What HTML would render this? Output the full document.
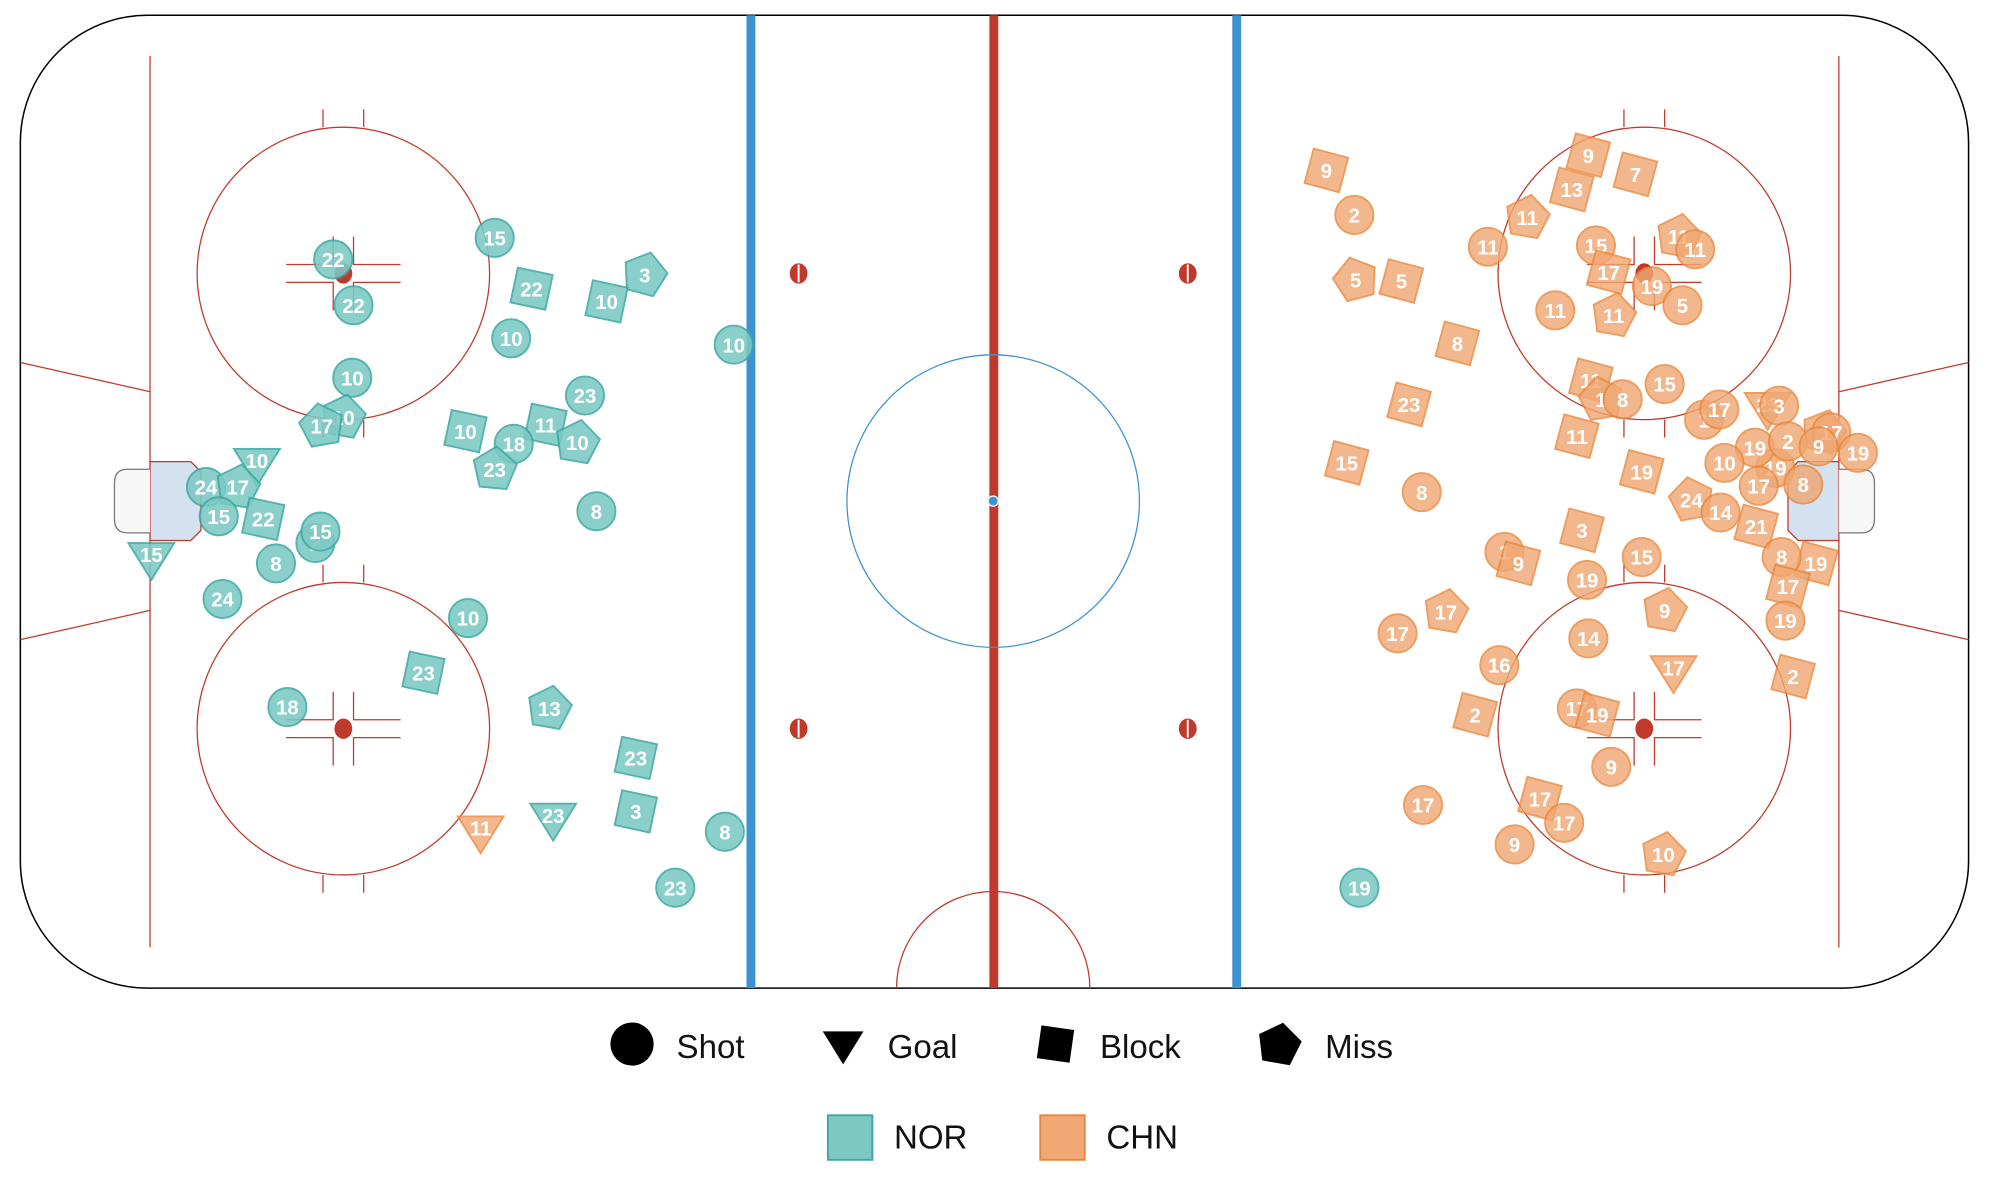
<!DOCTYPE html>
<html><head><meta charset="utf-8"><style>
html,body{margin:0;padding:0;background:#fff}
svg{display:block}
.n circle,.n rect,.n polygon{fill:#7cc9c4;stroke:#3ea9a2;stroke-width:1.5;opacity:.88}
.c circle,.c rect,.c polygon{fill:#f0a874;stroke:#e8883c;stroke-width:1.5;opacity:.82}
.n text,.c text{fill:#fff;font:600 16px "Liberation Sans",sans-serif;text-anchor:middle}
.lg{font:26px "Liberation Sans",sans-serif;fill:#111}
</style></head><body>
<svg width="1994" height="1186" viewBox="0 0 1568 932.6" xmlns="http://www.w3.org/2000/svg">
<rect x="16" y="12" width="1532" height="765" rx="100" ry="100" fill="#fff" stroke="#000" stroke-width="1.2"/>
<g stroke="#c0392b" stroke-width="1" fill="none">
<line x1="118" y1="44" x2="118" y2="745"/><line x1="1446" y1="44" x2="1446" y2="745"/>
<line x1="16" y1="285" x2="118" y2="308"/><line x1="16" y1="503" x2="118" y2="480"/>
<line x1="1548" y1="285" x2="1446" y2="308"/><line x1="1548" y1="503" x2="1446" y2="480"/>
<circle cx="270" cy="215" r="115"/><circle cx="270" cy="573" r="115"/>
<circle cx="1293" cy="215" r="115"/><circle cx="1293" cy="573" r="115"/>
<path d="M705 777 A76 76 0 0 1 857 777"/>
<g id="fo"><line x1="254" y1="100" x2="254" y2="86"/><line x1="286" y1="100" x2="286" y2="86"/><line x1="254" y1="330" x2="254" y2="344"/><line x1="286" y1="330" x2="286" y2="344"/>
<path d="M225 208H262V186 M315 208H278V186 M225 222H262V244 M315 222H278V244"/></g>
<use href="#fo" y="358"/><use href="#fo" x="1023"/><use href="#fo" x="1023" y="358"/>
</g>
<g fill="#c0392b"><ellipse cx="270" cy="215" rx="7" ry="8"/><ellipse cx="270" cy="573" rx="7" ry="8"/><ellipse cx="1293" cy="215" rx="7" ry="8"/><ellipse cx="1293" cy="573" rx="7" ry="8"/>
<ellipse cx="628" cy="215" rx="7" ry="8"/><ellipse cx="628" cy="573" rx="7" ry="8"/><ellipse cx="934" cy="215" rx="7" ry="8"/><ellipse cx="934" cy="573" rx="7" ry="8"/></g>
<g stroke="#fff" stroke-width="1.5"><line x1="628" y1="208" x2="628" y2="222"/><line x1="628" y1="566" x2="628" y2="580"/><line x1="934" y1="208" x2="934" y2="222"/><line x1="934" y1="566" x2="934" y2="580"/></g>
<rect x="587" y="12" width="7" height="765" fill="#3d93d1"/><rect x="969" y="12" width="7" height="765" fill="#3d93d1"/>
<rect x="778" y="12" width="7" height="765" fill="#c0392b"/>
<circle cx="781" cy="394" r="115" fill="none" stroke="#3d93d1" stroke-width="1"/>
<circle cx="781" cy="394" r="4" fill="#3d93d1" stroke="#fff"/>
<path d="M118 363H150L158 371V417L150 425H118Z" fill="#d4e1f0" stroke="#c0392b" stroke-width="1"/>
<path d="M1446 363H1414L1406 371V417L1414 425H1446Z" fill="#d4e1f0" stroke="#c0392b" stroke-width="1"/>
<path d="M118 369H100Q90 369 90 380V408Q90 419 100 419H118" fill="#f7f7f7" stroke="#777"/>
<path d="M1446 369H1464Q1474 369 1474 380V408Q1474 419 1464 419H1446" fill="#f7f7f7" stroke="#777"/>

<g class="n"><g transform="translate(389,187)"><circle r="15"/><text y="6">15</text></g>
<g transform="translate(262,204)"><circle r="15"/><text y="6">22</text></g>
<g transform="translate(278,240)"><circle r="15"/><text y="6">22</text></g>
<g transform="translate(418,227)"><rect x="-14" y="-14" width="28" height="28" transform="rotate(12)"/><text y="6">22</text></g>
<g transform="translate(507,216)"><polygon points="0,-18 17,-5.6 10.6,14.6 -10.6,14.6 -17,-5.6" transform="rotate(15)"/><text y="6">3</text></g>
<g transform="translate(477,237)"><rect x="-14" y="-14" width="28" height="28" transform="rotate(12)"/><text y="6">10</text></g>
<g transform="translate(402,266)"><circle r="15"/><text y="6">10</text></g>
<g transform="translate(577,271)"><circle r="15"/><text y="6">10</text></g>
<g transform="translate(277,297)"><circle r="15"/><text y="6">10</text></g>
<g transform="translate(270,328)"><polygon points="0,-18 17,-5.6 10.6,14.6 -10.6,14.6 -17,-5.6" transform="rotate(10)"/><text y="6">10</text></g>
<g transform="translate(253,335)"><polygon points="0,-18 17,-5.6 10.6,14.6 -10.6,14.6 -17,-5.6" transform="rotate(-10)"/><text y="6">17</text></g>
<g transform="translate(460,311)"><circle r="15"/><text y="6">23</text></g>
<g transform="translate(366,339)"><rect x="-14" y="-14" width="28" height="28" transform="rotate(12)"/><text y="6">10</text></g>
<g transform="translate(429,334)"><rect x="-14" y="-14" width="28" height="28" transform="rotate(12)"/><text y="6">11</text></g>
<g transform="translate(404,349)"><circle r="15"/><text y="6">18</text></g>
<g transform="translate(454,348)"><polygon points="0,-18 17,-5.6 10.6,14.6 -10.6,14.6 -17,-5.6" transform="rotate(10)"/><text y="6">10</text></g>
<g transform="translate(389,369)"><polygon points="0,-18 17,-5.6 10.6,14.6 -10.6,14.6 -17,-5.6" transform="rotate(5)"/><text y="6">23</text></g>
<g transform="translate(202,364)"><polygon points="-18,-11 18,-11 0,18"/><text y="4">10</text></g>
<g transform="translate(162,383)"><circle r="15"/><text y="6">24</text></g>
<g transform="translate(187,383)"><polygon points="0,-18 17,-5.6 10.6,14.6 -10.6,14.6 -17,-5.6" transform="rotate(10)"/><text y="6">17</text></g>
<g transform="translate(172,406)"><circle r="15"/><text y="6">15</text></g>
<g transform="translate(207,408)"><rect x="-14" y="-14" width="28" height="28" transform="rotate(12)"/><text y="6">22</text></g>
<g transform="translate(248,427)"><circle r="15"/><text y="6">2</text></g>
<g transform="translate(252,418)"><circle r="15"/><text y="6">15</text></g>
<g transform="translate(469,402)"><circle r="15"/><text y="6">8</text></g>
<g transform="translate(217,443)"><circle r="15"/><text y="6">8</text></g>
<g transform="translate(119,438)"><polygon points="-18,-11 18,-11 0,18"/><text y="4">15</text></g>
<g transform="translate(175,471)"><circle r="15"/><text y="6">24</text></g>
<g transform="translate(368,486)"><circle r="15"/><text y="6">10</text></g>
<g transform="translate(333,529)"><rect x="-14" y="-14" width="28" height="28" transform="rotate(12)"/><text y="6">23</text></g>
<g transform="translate(226,556)"><circle r="15"/><text y="6">18</text></g>
<g transform="translate(432,557)"><polygon points="0,-18 17,-5.6 10.6,14.6 -10.6,14.6 -17,-5.6" transform="rotate(10)"/><text y="6">13</text></g>
<g transform="translate(500,596)"><rect x="-14" y="-14" width="28" height="28" transform="rotate(12)"/><text y="6">23</text></g>
<g transform="translate(435,643)"><polygon points="-18,-11 18,-11 0,18"/><text y="4">23</text></g>
<g transform="translate(500,638)"><rect x="-14" y="-14" width="28" height="28" transform="rotate(12)"/><text y="6">3</text></g>
<g transform="translate(570,654)"><circle r="15"/><text y="6">8</text></g>
<g transform="translate(531,698)"><circle r="15"/><text y="6">23</text></g>
<g transform="translate(1069,698)"><circle r="15"/><text y="6">19</text></g>
</g>

<g class="c">
<g transform="translate(378,653)"><polygon points="-18,-11 18,-11 0,18"/><text y="4">11</text></g>
<g transform="translate(1043,134)"><rect x="-14" y="-14" width="28" height="28" transform="rotate(15)"/><text y="6">9</text></g>
<g transform="translate(1065,169)"><circle r="15"/><text y="6">2</text></g>
<g transform="translate(1249,122)"><rect x="-14" y="-14" width="28" height="28" transform="rotate(15)"/><text y="6">9</text></g>
<g transform="translate(1286,137)"><rect x="-14" y="-14" width="28" height="28" transform="rotate(15)"/><text y="6">7</text></g>
<g transform="translate(1236,149)"><rect x="-14" y="-14" width="28" height="28" transform="rotate(15)"/><text y="6">13</text></g>
<g transform="translate(1201,171)"><polygon points="0,-18 17,-5.6 10.6,14.6 -10.6,14.6 -17,-5.6" transform="rotate(10)"/><text y="6">11</text></g>
<g transform="translate(1170,194)"><circle r="15"/><text y="6">11</text></g>
<g transform="translate(1255,193)"><circle r="15"/><text y="6">15</text></g>
<g transform="translate(1320,186)"><polygon points="0,-18 17,-5.6 10.6,14.6 -10.6,14.6 -17,-5.6" transform="rotate(10)"/><text y="6">11</text></g>
<g transform="translate(1333,196)"><circle r="15"/><text y="6">11</text></g>
<g transform="translate(1265,214)"><rect x="-14" y="-14" width="28" height="28" transform="rotate(15)"/><text y="6">17</text></g>
<g transform="translate(1299,225)"><circle r="15"/><text y="6">19</text></g>
<g transform="translate(1323,240)"><circle r="15"/><text y="6">5</text></g>
<g transform="translate(1066,220)"><polygon points="0,-18 17,-5.6 10.6,14.6 -10.6,14.6 -17,-5.6" transform="rotate(-15)"/><text y="6">5</text></g>
<g transform="translate(1102,221)"><rect x="-14" y="-14" width="28" height="28" transform="rotate(15)"/><text y="6">5</text></g>
<g transform="translate(1223,244)"><circle r="15"/><text y="6">11</text></g>
<g transform="translate(1269,248)"><polygon points="0,-18 17,-5.6 10.6,14.6 -10.6,14.6 -17,-5.6" transform="rotate(10)"/><text y="6">11</text></g>
<g transform="translate(1146,270)"><rect x="-14" y="-14" width="28" height="28" transform="rotate(15)"/><text y="6">8</text></g>
<g transform="translate(1251,299)"><rect x="-14" y="-14" width="28" height="28" transform="rotate(15)"/><text y="6">11</text></g>
<g transform="translate(1309,302)"><circle r="15"/><text y="6">15</text></g>
<g transform="translate(1108,318)"><rect x="-14" y="-14" width="28" height="28" transform="rotate(15)"/><text y="6">23</text></g>
<g transform="translate(1259,314)"><polygon points="0,-18 17,-5.6 10.6,14.6 -10.6,14.6 -17,-5.6" transform="rotate(-10)"/><text y="6">1</text></g>
<g transform="translate(1276,314)"><circle r="15"/><text y="6">8</text></g>
<g transform="translate(1340,330)"><circle r="15"/><text y="6">1</text></g>
<g transform="translate(1352,322)"><circle r="15"/><text y="6">17</text></g>
<g transform="translate(1390,320)"><polygon points="-18,-11 18,-11 0,18"/><text y="4">23</text></g>
<g transform="translate(1399,319)"><circle r="15"/><text y="6">3</text></g>
<g transform="translate(1240,343)"><rect x="-14" y="-14" width="28" height="28" transform="rotate(15)"/><text y="6">11</text></g>
<g transform="translate(1059,364)"><rect x="-14" y="-14" width="28" height="28" transform="rotate(15)"/><text y="6">15</text></g>
<g transform="translate(1118,387)"><circle r="15"/><text y="6">8</text></g>
<g transform="translate(1291,371)"><rect x="-14" y="-14" width="28" height="28" transform="rotate(15)"/><text y="6">19</text></g>
<g transform="translate(1434,340)"><polygon points="0,-18 17,-5.6 10.6,14.6 -10.6,14.6 -17,-5.6" transform="rotate(15)"/><text y="6">9</text></g>
<g transform="translate(1440,340)"><circle r="15"/><text y="6">17</text></g>
<g transform="translate(1396,368)"><circle r="15"/><text y="6">19</text></g>
<g transform="translate(1380,352)"><circle r="15"/><text y="6">19</text></g>
<g transform="translate(1406,347)"><circle r="15"/><text y="6">2</text></g>
<g transform="translate(1430,351)"><circle r="15"/><text y="6">9</text></g>
<g transform="translate(1461,356)"><circle r="15"/><text y="6">19</text></g>
<g transform="translate(1356,364)"><circle r="15"/><text y="6">10</text></g>
<g transform="translate(1330,393)"><polygon points="0,-18 17,-5.6 10.6,14.6 -10.6,14.6 -17,-5.6" transform="rotate(-10)"/><text y="6">24</text></g>
<g transform="translate(1383,382)"><circle r="15"/><text y="6">17</text></g>
<g transform="translate(1418,381)"><circle r="15"/><text y="6">8</text></g>
<g transform="translate(1381,414)"><rect x="-14" y="-14" width="28" height="28" transform="rotate(15)"/><text y="6">21</text></g>
<g transform="translate(1353,403)"><circle r="15"/><text y="6">14</text></g>
<g transform="translate(1244,417)"><rect x="-14" y="-14" width="28" height="28" transform="rotate(15)"/><text y="6">3</text></g>
<g transform="translate(1183,434)"><circle r="15"/><text y="6">1</text></g>
<g transform="translate(1194,443)"><rect x="-14" y="-14" width="28" height="28" transform="rotate(15)"/><text y="6">9</text></g>
<g transform="translate(1291,438)"><circle r="15"/><text y="6">15</text></g>
<g transform="translate(1248,456)"><circle r="15"/><text y="6">19</text></g>
<g transform="translate(1428,443)"><rect x="-14" y="-14" width="28" height="28" transform="rotate(15)"/><text y="6">19</text></g>
<g transform="translate(1401,438)"><circle r="15"/><text y="6">8</text></g>
<g transform="translate(1406,461)"><rect x="-14" y="-14" width="28" height="28" transform="rotate(15)"/><text y="6">17</text></g>
<g transform="translate(1404,488)"><circle r="15"/><text y="6">19</text></g>
<g transform="translate(1309,480)"><polygon points="0,-18 17,-5.6 10.6,14.6 -10.6,14.6 -17,-5.6" transform="rotate(10)"/><text y="6">9</text></g>
<g transform="translate(1137,481)"><polygon points="0,-18 17,-5.6 10.6,14.6 -10.6,14.6 -17,-5.6" transform="rotate(10)"/><text y="6">17</text></g>
<g transform="translate(1099,498)"><circle r="15"/><text y="6">17</text></g>
<g transform="translate(1249,502)"><circle r="15"/><text y="6">14</text></g>
<g transform="translate(1316,527)"><polygon points="-18,-11 18,-11 0,18"/><text y="4">17</text></g>
<g transform="translate(1179,523)"><circle r="15"/><text y="6">16</text></g>
<g transform="translate(1410,532)"><rect x="-14" y="-14" width="28" height="28" transform="rotate(15)"/><text y="6">2</text></g>
<g transform="translate(1160,562)"><rect x="-14" y="-14" width="28" height="28" transform="rotate(15)"/><text y="6">2</text></g>
<g transform="translate(1240,557)"><circle r="15"/><text y="6">17</text></g>
<g transform="translate(1256,562)"><rect x="-14" y="-14" width="28" height="28" transform="rotate(15)"/><text y="6">19</text></g>
<g transform="translate(1267,603)"><circle r="15"/><text y="6">9</text></g>
<g transform="translate(1119,633)"><circle r="15"/><text y="6">17</text></g>
<g transform="translate(1211,628)"><rect x="-14" y="-14" width="28" height="28" transform="rotate(15)"/><text y="6">17</text></g>
<g transform="translate(1230,647)"><circle r="15"/><text y="6">17</text></g>
<g transform="translate(1191,664)"><circle r="15"/><text y="6">9</text></g>
<g transform="translate(1308,672)"><polygon points="0,-18 17,-5.6 10.6,14.6 -10.6,14.6 -17,-5.6" transform="rotate(10)"/><text y="6">10</text></g>
</g>

<circle cx="497" cy="821" r="17" fill="#000"/><text class="lg" x="532" y="832">Shot</text>
<polygon points="647,811 679,811 663,837" fill="#000"/><text class="lg" x="698" y="832">Goal</text>
<rect x="817" y="808" width="26" height="26" fill="#000" transform="rotate(8 830 821)"/><text class="lg" x="865" y="832">Block</text>
<polygon points="1006,804 1023,816 1017,836 995,836 989,816" fill="#000" transform="rotate(10 1006 821)"/><text class="lg" x="1042" y="832">Miss</text>
<rect x="651" y="877" width="35" height="35" fill="#7cc9c4" stroke="#3ea9a2" stroke-width="1.5"/><text class="lg" x="703" y="903">NOR</text>
<rect x="818" y="877" width="35" height="35" fill="#f0a874" stroke="#e8883c" stroke-width="1.5"/><text class="lg" x="870" y="903">CHN</text>
</svg>
</body></html>
